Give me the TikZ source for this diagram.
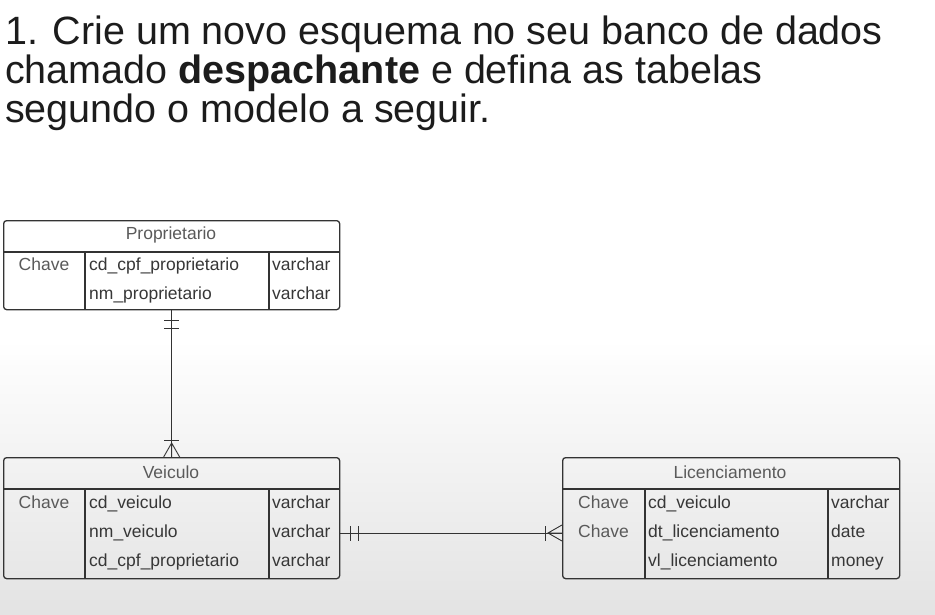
\documentclass[tikz,border=0pt]{standalone}
\usepackage{fontspec}
\setmainfont{Liberation Sans}
\usetikzlibrary{positioning,calc}
\definecolor{linegray}{RGB}{51,51,51}
\definecolor{textgray}{RGB}{90,90,90}
\definecolor{fieldgray}{RGB}{55,55,55}
\definecolor{titleblack}{RGB}{28,28,28}
\tikzset{
  entitybox/.style={rectangle, rounded corners=3pt, draw=linegray, line width=1.3pt,
                    anchor=north west, inner sep=0pt},
  divider/.style  ={draw=linegray, line width=1.2pt},
  hdr/.style      ={font=\fontsize{17.5}{20}\selectfont, text=textgray, anchor=base, inner sep=0pt},
  keycell/.style  ={hdr},
  fld/.style      ={font=\fontsize{17.5}{20}\selectfont, text=fieldgray, anchor=base west, inner sep=0pt},
  rel/.style      ={draw=linegray, line width=0.9pt},
  ttl/.style      ={font=\fontsize{39.5}{40}\selectfont, text=titleblack, anchor=base west, inner sep=0pt}
}
\begin{document}
\begin{tikzpicture}[x=1pt,y=-1pt,
  onebar/.pic={
    \draw[rel] (-7.5,10)--(7.5,10) (-7.5,18)--(7.5,18);
  },
  crowfoot/.pic={
    \draw[rel] (-7.5,-17)--(7.5,-17);
    \draw[rel] (-8,0)--(0,-14)--(8,0) (0,-14)--(0,0);
  }]
\useasboundingbox (0,0) rectangle (935,615);
\fill[white] (0,0) rectangle (935,615);
\shade[top color=white, bottom color=black!11] (0,340) rectangle (935,615);

% Exercise statement
\node[ttl] (title1) at (5,45)  {1. Crie um novo esquema no seu banco de dados};
\node[ttl] (title2) at (5,84)  {chamado \textbf{despachante} e defina as tabelas};
\node[ttl] (title3) at (5,123) {segundo o modelo a seguir.};

% Proprietario
\node[entitybox, minimum width=336pt, minimum height=89pt] (prop) at (3,220) {};
\draw[divider] (3,252) -- (339,252) (85,252) -- (85,309) (269,252) -- (269,309);
\node[hdr] (proph) at (171,239) {Proprietario};
\node[keycell] (propk1) at (44,270) {Chave};
\node[fld] (propf1) at (89,270) {cd\_cpf\_proprietario};
\node[fld] (propt1) at (272,270) {varchar};
\node[fld] (propf2) at (89,299) {nm\_proprietario};
\node[fld] (propt2) at (272,299) {varchar};

% Veiculo
\node[entitybox, minimum width=336pt, minimum height=121pt] (veic) at (3,457) {};
\draw[divider] (3,489) -- (339,489) (85,489) -- (85,578) (269,489) -- (269,578);
\node[hdr] (veich) at (171,478) {Veiculo};
\node[keycell] (veick1) at (44,508) {Chave};
\node[fld] (veicf1) at (89,508) {cd\_veiculo};
\node[fld] (veict1) at (272,508) {varchar};
\node[fld] (veicf2) at (89,537) {nm\_veiculo};
\node[fld] (veict2) at (272,537) {varchar};
\node[fld] (veicf3) at (89,566) {cd\_cpf\_proprietario};
\node[fld] (veict3) at (272,566) {varchar};

% Licenciamento
\node[entitybox, minimum width=337pt, minimum height=121pt] (lic) at (562,457) {};
\draw[divider] (562,489) -- (899,489) (645,489) -- (645,578) (828,489) -- (828,578);
\node[hdr] (lich) at (730,478) {Licenciamento};
\node[keycell] (lick1) at (603.5,508) {Chave};
\node[fld] (licf1) at (648,508) {cd\_veiculo};
\node[fld] (lict1) at (831,508) {varchar};
\node[keycell] (lick2) at (603.5,537) {Chave};
\node[fld] (licf2) at (648,537) {dt\_licenciamento};
\node[fld] (lict2) at (831,537) {date};
\node[fld] (licf3) at (648,566) {vl\_licenciamento};
\node[fld] (lict3) at (831,566) {money};

% Relationships
\coordinate (r2) at (0,533);
\draw[rel] (prop.south) -- (veic.north);
\pic at (prop.south) {onebar};
\pic at (veic.north) {crowfoot};
\draw[rel] (veic.east |- r2) -- (lic.west |- r2);
\pic[rotate=90] at (veic.east |- r2) {onebar};
\pic[rotate=90] at (lic.west |- r2) {crowfoot};
\end{tikzpicture}
\end{document}
